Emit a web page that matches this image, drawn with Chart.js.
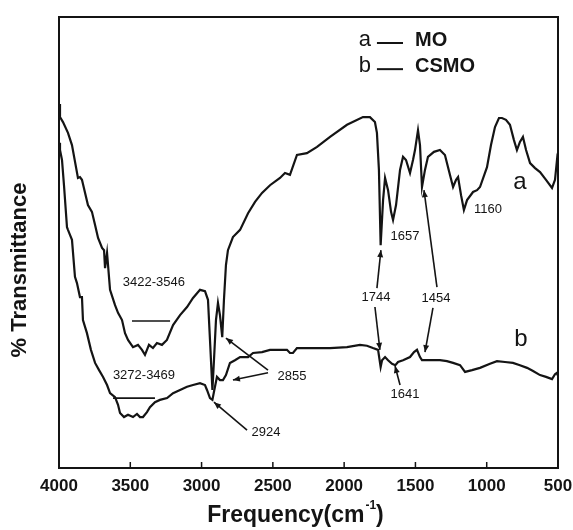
<!DOCTYPE html>
<html>
<head>
<meta charset="utf-8">
<script src="https://cdn.jsdelivr.net/npm/chart.js@4.4.1/dist/chart.umd.min.js"></script>
<style>
  body { margin: 0; background: #fff; }
  canvas { display: block; }
</style>
</head>
<body>
<canvas id="ftirChart" width="573" height="530"></canvas>
<script>
// curve a — MO (wavenumber, % transmittance)
const waveA = [
  4000, 3993, 3972, 3937, 3909, 3867, 3853, 3839, 3797, 3769,
  3747, 3726, 3698, 3684, 3677, 3663, 3642, 3607, 3586, 3558,
  3537, 3516, 3481, 3446, 3418, 3397, 3369, 3341, 3313, 3278,
  3243, 3200, 3151, 3102, 3060, 3011, 2976, 2955, 2941, 2924,
  2913, 2899, 2885, 2871, 2855, 2843, 2829, 2815, 2780, 2730,
  2674, 2625, 2576, 2520, 2450, 2415, 2380, 2331, 2261, 2190,
  2099, 1980, 1868, 1819, 1784, 1770, 1756, 1744, 1727, 1713,
  1692, 1671, 1657, 1636, 1608, 1587, 1566, 1538, 1517, 1503,
  1482, 1468, 1454, 1433, 1412, 1370, 1328, 1293, 1258, 1236,
  1215, 1201, 1180, 1160, 1138, 1096, 1068, 1047, 998, 970,
  942, 914, 893, 865, 837, 809, 788, 767, 746, 724,
  696, 661, 626, 584, 542, 521, 507, 500
];
const transA = [
  80.7, 77.8, 76.7, 74.3, 71.6, 64.3, 64.5, 63.9, 58.3, 56.8,
  53.9, 51.0, 48.8, 48.3, 44.3, 47.7, 39.5, 36.1, 34.4, 32.8,
  29.9, 28.4, 26.8, 27.3, 26.2, 25.1, 27.3, 26.6, 27.7, 27.3,
  28.4, 31.7, 33.9, 35.7, 37.7, 39.5, 39.2, 37.3, 28.4, 17.3,
  23.9, 32.8, 36.6, 33.9, 29.0, 37.3, 45.0, 48.3, 51.2, 52.8,
  56.5, 59.0, 61.0, 62.7, 64.3, 65.4, 65.0, 69.4, 69.8, 71.2,
  73.4, 76.1, 77.8, 77.8, 76.7, 74.3, 66.1, 49.4, 59.4, 64.3,
  61.6, 56.8, 55.0, 58.3, 66.1, 69.0, 68.3, 65.4, 68.3, 70.5,
  74.9, 71.6, 62.3, 66.1, 69.0, 70.1, 70.5, 69.4, 65.0, 62.3,
  63.9, 64.5, 60.5, 57.2, 59.4, 61.2, 61.6, 62.3, 66.7, 71.6,
  75.6, 77.6, 77.6, 77.2, 76.1, 72.7, 70.5, 72.3, 73.4, 70.5,
  67.6, 66.5, 65.6, 63.9, 62.1, 63.9, 68.3, 67.2
];

// curve b — CSMO
const waveB = [
  4000, 3993, 3979, 3965, 3944, 3937, 3923, 3909, 3888, 3874,
  3853, 3839, 3832, 3804, 3776, 3747, 3719, 3691, 3663, 3642,
  3607, 3586, 3572, 3544, 3516, 3481, 3453, 3432, 3411, 3383,
  3362, 3327, 3292, 3242, 3200, 3151, 3102, 3060, 3011, 2976,
  2962, 2941, 2924, 2913, 2892, 2871, 2850, 2829, 2801, 2766,
  2730, 2674, 2639, 2576, 2520, 2450, 2401, 2380, 2359, 2331,
  2275, 2218, 2099, 1980, 1889, 1840, 1798, 1762, 1744, 1734,
  1713, 1692, 1664, 1641, 1622, 1587, 1538, 1510, 1489, 1468,
  1454, 1398, 1328, 1279, 1236, 1187, 1152, 1103, 1047, 977,
  928, 872, 816, 767, 717, 675, 626, 584, 542, 521,
  507, 500
];
const transB = [
  72.1, 70.5, 68.3, 62.7, 53.4, 52.8, 51.7, 50.6, 42.4, 41.0,
  37.9, 37.9, 32.8, 29.9, 26.2, 23.3, 21.7, 20.2, 18.4, 16.6,
  15.7, 14.0, 12.2, 11.3, 11.8, 11.3, 12.0, 11.3, 11.3, 12.4,
  13.5, 14.6, 15.1, 15.5, 16.6, 17.3, 18.0, 18.4, 18.8, 18.4,
  17.3, 15.5, 15.1, 16.9, 20.2, 19.5, 19.5, 20.6, 23.3, 23.9,
  24.6, 24.6, 25.5, 25.7, 26.2, 26.2, 26.2, 25.5, 25.5, 26.6,
  26.6, 26.6, 26.6, 26.8, 27.3, 27.1, 26.6, 26.2, 22.4, 23.9,
  24.6, 23.9, 23.1, 22.8, 23.5, 23.9, 24.6, 25.7, 26.2, 24.6,
  23.9, 23.9, 23.9, 23.7, 23.3, 22.8, 21.3, 21.7, 22.2, 23.1,
  23.7, 23.5, 23.3, 22.8, 22.2, 21.5, 20.6, 20.2, 19.7, 20.8,
  21.1, 20.4
];

const xTicks = [4000, 3500, 3000, 2500, 2000, 1500, 1000, 500];

// peak labels [text, wavenumber, transmittance]
const peakLabels = [
  ['3422-3546', 3334, 41.2],
  ['3272-3469', 3404, 20.6],
  ['2924', 2548, 7.8],
  ['2855', 2366, 20.4],
  ['1744', 1777, 37.9],
  ['1454', 1356, 37.5],
  ['1641', 1573, 16.4],
  ['1657', 1573, 51.4],
  ['1160', 991, 57.4]
];
// plain range bars [x1, y1, x2, y2]
const rangeBars = [
  [3488, 32.6, 3221, 32.6],
  [3621, 15.5, 3327, 15.5]
];
// arrows, head at the second point
const arrows = [
  [2534, 21.7, 2829, 28.8],
  [2534, 21.1, 2780, 19.5],
  [2681, 8.4, 2913, 14.6],
  [1770, 39.9, 1742, 48.3],
  [1784, 35.7, 1749, 26.2],
  [1349, 40.1, 1440, 61.6],
  [1377, 35.5, 1433, 25.7],
  [1608, 18.4, 1643, 22.6]
];
const curveNames = ['MO', 'CSMO'];
const curveLetters = ['a', 'b'];

const ink = '#141414';
const sans = '"Liberation Sans", Arial, Helvetica, sans-serif';

function arrowLine(ctx, x1, y1, x2, y2) {
  ctx.beginPath();
  ctx.moveTo(x1, y1);
  ctx.lineTo(x2, y2);
  ctx.stroke();
  const ang = Math.atan2(y2 - y1, x2 - x1);
  const len = 7, half = 3;
  ctx.beginPath();
  ctx.moveTo(x2, y2);
  ctx.lineTo(x2 - len * Math.cos(ang) + half * Math.sin(ang), y2 - len * Math.sin(ang) - half * Math.cos(ang));
  ctx.lineTo(x2 - len * Math.cos(ang) - half * Math.sin(ang), y2 - len * Math.sin(ang) + half * Math.cos(ang));
  ctx.closePath();
  ctx.fill();
}

const decorPlugin = {
  id: 'decor',
  afterDraw(chart) {
    const ctx = chart.ctx;
    const xs = chart.scales.x, ys = chart.scales.y;
    const area = chart.chartArea;
    const px = v => xs.getPixelForValue(v);
    const py = v => ys.getPixelForValue(v);

    ctx.save();
    ctx.strokeStyle = ink;
    ctx.fillStyle = ink;

    // frame
    ctx.lineWidth = 2;
    ctx.strokeRect(area.left, area.top, area.right - area.left, area.bottom - area.top);

    // inward tick marks
    ctx.lineWidth = 1.5;
    xTicks.slice(1, -1).forEach(v => {
      ctx.beginPath();
      ctx.moveTo(px(v), area.bottom);
      ctx.lineTo(px(v), area.bottom - 6);
      ctx.stroke();
    });

    // range bars and arrows
    ctx.lineWidth = 1.6;
    rangeBars.forEach(b => {
      ctx.beginPath();
      ctx.moveTo(px(b[0]), py(b[1]));
      ctx.lineTo(px(b[2]), py(b[3]));
      ctx.stroke();
    });
    arrows.forEach(a => arrowLine(ctx, px(a[0]), py(a[1]), px(a[2]), py(a[3])));

    // peak labels
    ctx.font = '13px ' + sans;
    ctx.textAlign = 'center';
    ctx.textBaseline = 'middle';
    peakLabels.forEach(l => ctx.fillText(l[0], px(l[1]), py(l[2])));

    // curve letters
    ctx.font = '24px ' + sans;
    ctx.fillText(curveLetters[0], px(767), py(63.4));
    ctx.fillText(curveLetters[1], px(760), py(28.6));

    // legend
    const rows = [94.9, 89.1];
    rows.forEach((t, i) => {
      const y = py(t);
      ctx.font = '22px ' + sans;
      ctx.textAlign = 'center';
      ctx.fillText(curveLetters[i], px(1854), y);
      ctx.lineWidth = 2;
      ctx.beginPath();
      ctx.moveTo(px(1770), y + 3);
      ctx.lineTo(px(1587), y + 3);
      ctx.stroke();
      ctx.font = 'bold 20px ' + sans;
      ctx.textAlign = 'left';
      ctx.fillText(curveNames[i], px(1503), y);
    });

    // y title
    ctx.save();
    ctx.translate(20, 270);
    ctx.rotate(-Math.PI / 2);
    ctx.font = 'bold 22px ' + sans;
    ctx.textAlign = 'center';
    ctx.fillText('% Transmittance', 0, 0);
    ctx.restore();

    // x title with superscript
    ctx.textAlign = 'left';
    ctx.textBaseline = 'alphabetic';
    ctx.font = 'bold 23px ' + sans;
    const main = 'Frequency(cm';
    const wMain = ctx.measureText(main).width;
    const wClose = ctx.measureText(')').width;
    ctx.font = 'bold 12px ' + sans;
    const wSup = ctx.measureText('-1').width;
    const x0 = 295 - (wMain + wSup + wClose) / 2;
    const base = 522;
    ctx.font = 'bold 23px ' + sans;
    ctx.fillText(main, x0, base);
    ctx.font = 'bold 12px ' + sans;
    ctx.fillText('-1', x0 + wMain + 1, base - 13);
    ctx.font = 'bold 23px ' + sans;
    ctx.fillText(')', x0 + wMain + wSup + 1, base);

    ctx.restore();
  }
};

const ctx = document.getElementById('ftirChart').getContext('2d');
const ftirChart = new Chart(ctx, {
  type: 'line',
  data: {
    datasets: [
      {
        label: 'a — MO',
        data: waveA.map((w, i) => ({ x: w, y: transA[i] })),
        borderColor: ink,
        borderWidth: 2.2,
        pointRadius: 0,
        tension: 0,
        fill: false
      },
      {
        label: 'b — CSMO',
        data: waveB.map((w, i) => ({ x: w, y: transB[i] })),
        borderColor: ink,
        borderWidth: 2.2,
        pointRadius: 0,
        tension: 0,
        fill: false
      }
    ]
  },
  options: {
    responsive: false,
    animation: false,
    layout: { padding: { top: 17, right: 15, left: 0, bottom: 0 } },
    plugins: {
      legend: { display: false },
      tooltip: { enabled: false }
    },
    scales: {
      x: {
        type: 'linear',
        reverse: true,
        min: 500,
        max: 4000,
        afterBuildTicks: scale => { scale.ticks = xTicks.map(v => ({ value: v })); },
        afterFit: scale => {
          scale.height = 62;
          scale.paddingLeft = 0;
          scale.paddingRight = 0;
        },
        ticks: {
          color: ink,
          padding: 0,
          maxRotation: 0,
          autoSkip: false,
          font: { family: sans, size: 17, weight: 'bold' },
          callback: v => String(v)
        },
        grid: { display: false },
        border: { display: true, color: ink, width: 2 }
      },
      y: {
        min: 0,
        max: 100,
        afterFit: scale => { scale.width = 59; },
        ticks: { display: false },
        grid: { display: false },
        border: { display: true, color: ink, width: 2 }
      }
    }
  },
  plugins: [decorPlugin]
});
</script>
</body>
</html>
